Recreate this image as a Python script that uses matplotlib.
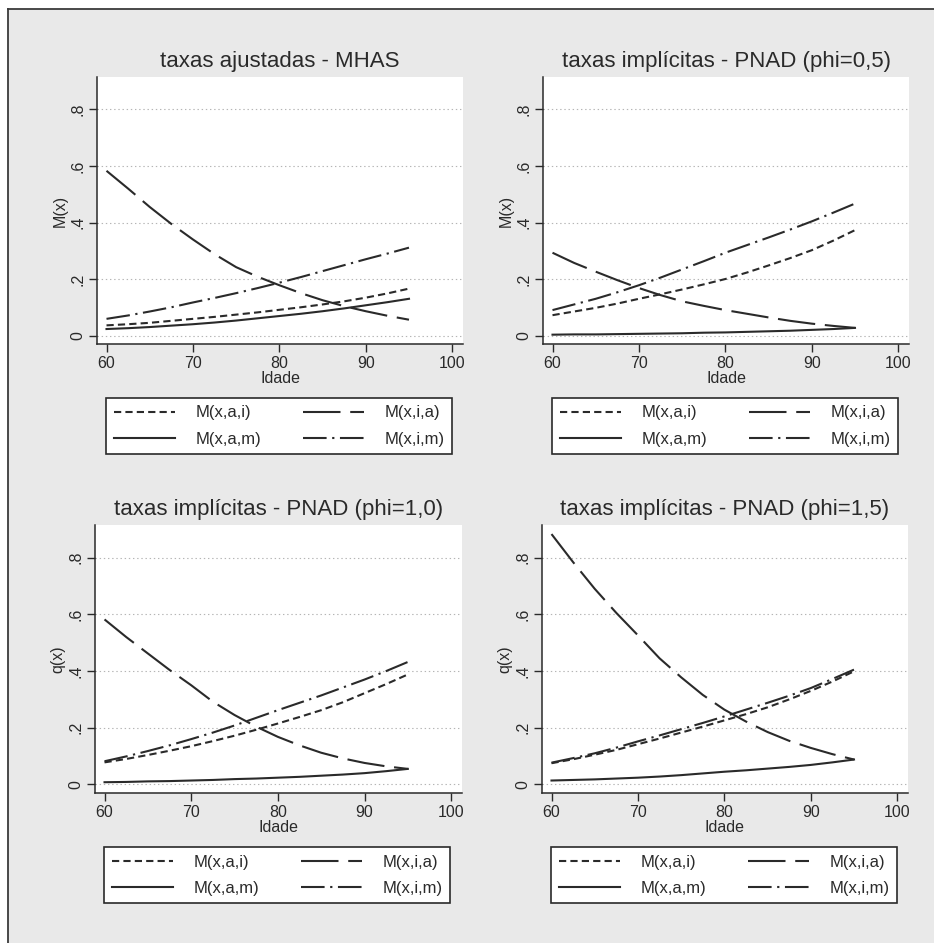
import matplotlib
matplotlib.use("Agg")
import matplotlib.pyplot as plt
from matplotlib.patches import Rectangle
from matplotlib.lines import Line2D

plt.rcParams["font.family"] = ["Liberation Sans", "DejaVu Sans"]
plt.rcParams["lines.scale_dashes"] = False

# ---- data -------------------------------------------------------------
ages = [60, 62.5, 65, 67.5, 70, 72.5, 75, 77.5, 80, 82.5, 85, 87.5, 90, 92.5, 95]

mhas_ai = [.036, .040, .045, .052, .059, .066, .074, .082, .091, .100, .110, .121, .134, .149, .166]
mhas_am = [.023, .026, .030, .035, .040, .046, .053, .061, .069, .077, .086, .096, .107, .118, .130]
mhas_ia = [.583, .520, .455, .395, .340, .288, .242, .208, .178, .150, .125, .104, .086, .070, .056]
mhas_im = [.059, .071, .085, .100, .117, .133, .150, .168, .187, .207, .228, .249, .270, .290, .311]

p05_ai = [.072, .085, .098, .113, .130, .146, .163, .181, .200, .223, .248, .274, .302, .336, .373]
p05_am = [.003, .004, .004, .005, .006, .007, .008, .010, .011, .013, .015, .017, .020, .023, .027]
p05_ia = [.293, .257, .226, .196, .168, .143, .121, .105, .090, .077, .064, .052, .042, .034, .027]
p05_im = [.090, .110, .130, .153, .178, .205, .234, .263, .293, .320, .347, .375, .404, .435, .467]

p10_ai = [.078, .090, .104, .119, .135, .153, .172, .193, .215, .238, .262, .290, .322, .354, .388]
p10_am = [.008, .009, .011, .012, .014, .016, .019, .021, .024, .027, .031, .035, .040, .047, .055]
p10_ia = [.582, .520, .462, .404, .350, .292, .245, .204, .168, .138, .112, .092, .076, .064, .055]
p10_im = [.082, .099, .118, .138, .160, .183, .208, .235, .262, .288, .314, .342, .370, .400, .432]

p15_ai = [.075, .089, .105, .122, .142, .162, .183, .204, .226, .248, .272, .300, .330, .363, .399]
p15_am = [.014, .016, .018, .021, .024, .028, .033, .039, .045, .050, .056, .062, .069, .078, .088]
p15_ia = [.883, .784, .690, .605, .526, .445, .378, .316, .264, .222, .185, .154, .129, .107, .088]
p15_im = [.077, .093, .110, .130, .152, .173, .195, .217, .240, .264, .288, .313, .340, .372, .405]

titles = ["taxas ajustadas - MHAS",
          "taxas implícitas - PNAD (phi=0,5)",
          "taxas implícitas - PNAD (phi=1,0)",
          "taxas implícitas - PNAD (phi=1,5)"]
ylabels = ["M(x)", "M(x)", "q(x)", "q(x)"]
series_labels = ["M(x,a,i)", "M(x,a,m)", "M(x,i,a)", "M(x,i,m)"]
panel_series = [
    [mhas_ai, mhas_am, mhas_ia, mhas_im],
    [p05_ai, p05_am, p05_ia, p05_im],
    [p10_ai, p10_am, p10_ia, p10_im],
    [p15_ai, p15_am, p15_ia, p15_im],
]
x_ticks = [60, 70, 80, 90, 100]
y_ticks = [0, 0.2, 0.4, 0.6, 0.8]
y_ticklabels = ["0", ".2", ".4", ".6", ".8"]

# ---- styling ----------------------------------------------------------
INK = "#2a2a2a"
BG = "#e9e9e9"
line_styles = [
    dict(dashes=(5.2, 3.0)),            # short dash
    dict(linestyle="-"),                # solid
    dict(dashes=(27, 7)),               # long dash
    dict(dashes=(17, 4, 1.6, 4)),       # dash-dot
]

W, H = 934, 943
fig = plt.figure(figsize=(W / 100, H / 100), dpi=100, facecolor="white")
fig.add_artist(Rectangle((8 / W, 0), 1, (H - 9) / H, transform=fig.transFigure,
                         facecolor=BG, edgecolor="none", zorder=-10))
fig.add_artist(Line2D([8 / W, 1], [1 - 9 / H, 1 - 9 / H], transform=fig.transFigure,
                      color="#3a3a3a", lw=1.3, zorder=-5))
fig.add_artist(Line2D([8 / W, 8 / W], [0, 1 - 9 / H], transform=fig.transFigure,
                      color="#3a3a3a", lw=1.3, zorder=-5))

# plot-area boxes in pixels: left, top, width, height
boxes = [(97, 77, 366, 267), (543, 77, 366, 267),
         (95, 525, 367, 268), (542, 525, 366, 268)]

for box, title, ylab, series in zip(boxes, titles, ylabels, panel_series):
    left, top, wpx, hpx = box
    ax = fig.add_axes([left / W, 1 - (top + hpx) / H, wpx / W, hpx / H])
    ax.set_facecolor("white")
    for vals, style in zip(series, line_styles):
        ax.plot(ages, vals, color=INK, lw=1.5, **style)

    ax.set_xlim(58.9, 101.25)
    ax.set_ylim(-0.03, 0.915)
    ax.set_xticks(x_ticks)
    ax.set_yticks(y_ticks)
    ax.set_yticklabels(y_ticklabels, rotation=90, va="center")
    ax.tick_params(direction="out", length=5.5, width=1, color=INK,
                   labelsize=11.5, pad=3, labelcolor=INK)
    for s in ("top", "right"):
        ax.spines[s].set_visible(False)
    for s in ("left", "bottom"):
        ax.spines[s].set_color(INK)
        ax.spines[s].set_linewidth(1.1)
    ax.grid(axis="y", linestyle=(0, (1, 2)), color="#b5b5b5", lw=0.8)
    ax.set_axisbelow(True)
    ax.set_xlabel("Idade", fontsize=11.5, labelpad=0, color=INK)
    ax.set_ylabel(ylab, fontsize=11.5, labelpad=2, color=INK)
    ax.set_title(title, fontsize=16, pad=7, color=INK)

    handles = [Line2D([], [], color=INK, lw=1.5, **st) for st in line_styles]
    leg = ax.legend(handles, series_labels, ncol=2, loc="upper left",
                    bbox_to_anchor=(9 / wpx, -54 / hpx, 346 / wpx, 0), mode="expand",
                    fontsize=12, frameon=True, fancybox=False, edgecolor=INK,
                    framealpha=1, handlelength=3.7, handletextpad=1.2,
                    labelspacing=0.68, borderpad=0.45, borderaxespad=0)
    leg.get_frame().set_linewidth(1.2)
    for t in leg.get_texts():
        t.set_color(INK)

fig.savefig("out.png", dpi=100, facecolor=fig.get_facecolor())
